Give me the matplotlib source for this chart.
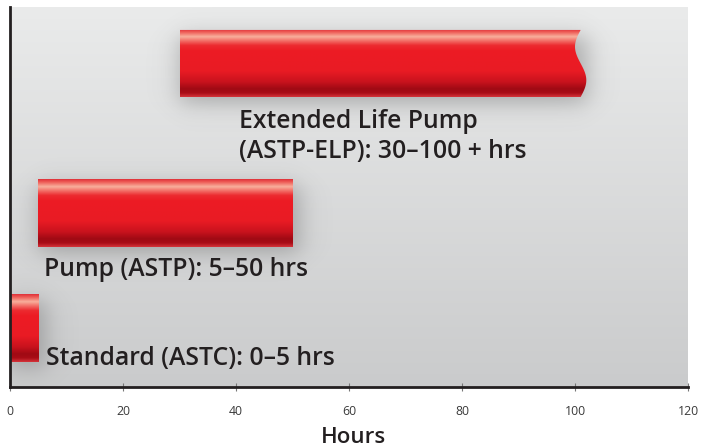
import numpy as np
import matplotlib
matplotlib.use("Agg")
import matplotlib.pyplot as plt
from matplotlib.colors import to_rgb
from matplotlib.patches import PathPatch, Rectangle
from matplotlib.path import Path
from matplotlib.transforms import offset_copy

# ---------------- data ----------------
categories = ["Standard (ASTC): 0–5 hrs",
              "Pump (ASTP): 5–50 hrs",
              "Extended Life Pump\n(ASTP-ELP): 30–100 + hrs"]
start_hours = [0, 5, 30]
end_hours = [5, 50, 101]
open_ended = [False, False, True]
x_ticks = [0, 20, 40, 60, 80, 100, 120]
x_label = "Hours"

# ---------------- layout ----------------
y_pos = [0, 1, 2.3]
bar_h = 0.583
# (x, baseline of last line) in data coords
label_xy = [(6.4, -0.322), (6.1, 0.452), (40.6, 1.474)]
LINE_STEP_PT = 30.5 * 72 / 100  # distance between baselines

FONT = ["Open Sans", "DejaVu Sans"]

fig = plt.figure(figsize=(7.03, 4.48), dpi=100)
ax = fig.add_axes([10 / 703, 61 / 448, 678 / 703, 380 / 448])
ax.set_xlim(0, 120)
ax.set_ylim(-0.513, 2.791)

# background gradient
top_c = np.array(to_rgb("#eaebeb"))
bot_c = np.array(to_rgb("#cacbcc"))
t = np.linspace(0, 1, 256)[:, None]
bg = (top_c * (1 - t) + bot_c * t)[:, None, :]
ax.imshow(bg, extent=[0, 1, 0, 1], transform=ax.transAxes, aspect="auto",
          interpolation="bilinear", zorder=0)

# soft shadows computed from the bar extents
xs = np.linspace(0, 120, 700)
ys = np.linspace(-0.513, 2.791, 400)
X, Y = np.meshgrid(xs, ys)
alpha = np.zeros_like(X)
sx, sy = 2.6, 0.11
for s, e, y in zip(start_hours, end_hours, y_pos):
    fx = 0.5 * (np.tanh((X - s) / sx) - np.tanh((X - e - 1.2) / sx))
    yc = y - 0.06
    fy = 0.5 * (np.tanh((Y - (yc - bar_h / 2)) / sy) - np.tanh((Y - (yc + bar_h / 2)) / sy))
    alpha = np.maximum(alpha, fx * fy)
shadow = np.zeros(X.shape + (4,))
shadow[..., :3] = 0.3
shadow[..., 3] = alpha * 0.38
ax.imshow(shadow, extent=[0, 120, -0.513, 2.791], origin="lower", aspect="auto",
          interpolation="bilinear", zorder=1)

# bar gradient (top -> bottom)
stops = [(0.00, "#e0323a"), (0.04, "#ee5a55"), (0.11, "#f8b09c"), (0.16, "#f47a70"),
         (0.24, "#ec2a30"), (0.32, "#ed1c24"), (0.62, "#e91b24"), (0.78, "#c8121d"),
         (0.88, "#a00a14"), (0.94, "#a80c16"), (1.00, "#d4333a")]
tt = np.linspace(0, 1, 200)
cols = np.array([[np.interp(v, [p for p, _ in stops], [to_rgb(c)[k] for _, c in stops])
                  for k in range(3)] for v in tt])
grad = cols[:, None, :]

for s, e, y, oe in zip(start_hours, end_hours, y_pos, open_ended):
    yb, yt = y - bar_h / 2, y + bar_h / 2
    if oe:
        n = 60
        tv = np.linspace(0, 1, n)          # 0 = top, 1 = bottom
        amp = 1.0
        xr = e - amp * np.sin(2 * np.pi * tv)
        yr = yt - tv * bar_h
        verts = [(s, yt)] + list(zip(xr, yr)) + [(s, yb), (s, yt)]
        codes = [Path.MOVETO] + [Path.LINETO] * (n + 1) + [Path.CLOSEPOLY]
        clip = PathPatch(Path(verts, codes), facecolor="none", edgecolor="none")
        xmax = e + amp
    else:
        clip = Rectangle((s, yb), e - s, bar_h, facecolor="none", edgecolor="none")
        xmax = e
    ax.add_patch(clip)
    im = ax.imshow(grad, extent=[s, xmax, yb, yt], aspect="auto",
                   interpolation="bilinear", zorder=2)
    im.set_clip_path(clip)

# labels (each line placed separately so line spacing is exact)
for (lx, ly), txt in zip(label_xy, categories):
    lines = txt.split("\n")
    nl = len(lines)
    for i, line in enumerate(lines):
        tr = offset_copy(ax.transData, fig=fig, x=0, y=(nl - 1 - i) * LINE_STEP_PT, units="points")
        ax.text(lx, ly, line, fontsize=17.8, family=FONT, weight="semibold",
                color="#231f20", va="baseline", ha="left", zorder=3, transform=tr)

# axes styling
ax.set_xticks(x_ticks)
ax.set_xticklabels([str(v) for v in x_ticks], family=FONT, fontsize=8.8, color="#3a3a3a")
ax.set_yticks([])
ax.tick_params(axis="x", direction="inout", length=6, width=0.8, color="#777777", pad=10)
for side in ["top", "right"]:
    ax.spines[side].set_visible(False)
ax.spines["left"].set_linewidth(2)
ax.spines["bottom"].set_linewidth(2)
ax.spines["left"].set_color("#231f20")
ax.spines["bottom"].set_color("#231f20")
ax.set_xlabel(x_label, family=FONT, fontsize=16, weight="semibold", color="#231f20")
ax.xaxis.set_label_coords(0.506, -0.147)
ax.xaxis.label.set_va("baseline")

fig.savefig("out.png", dpi=100)
